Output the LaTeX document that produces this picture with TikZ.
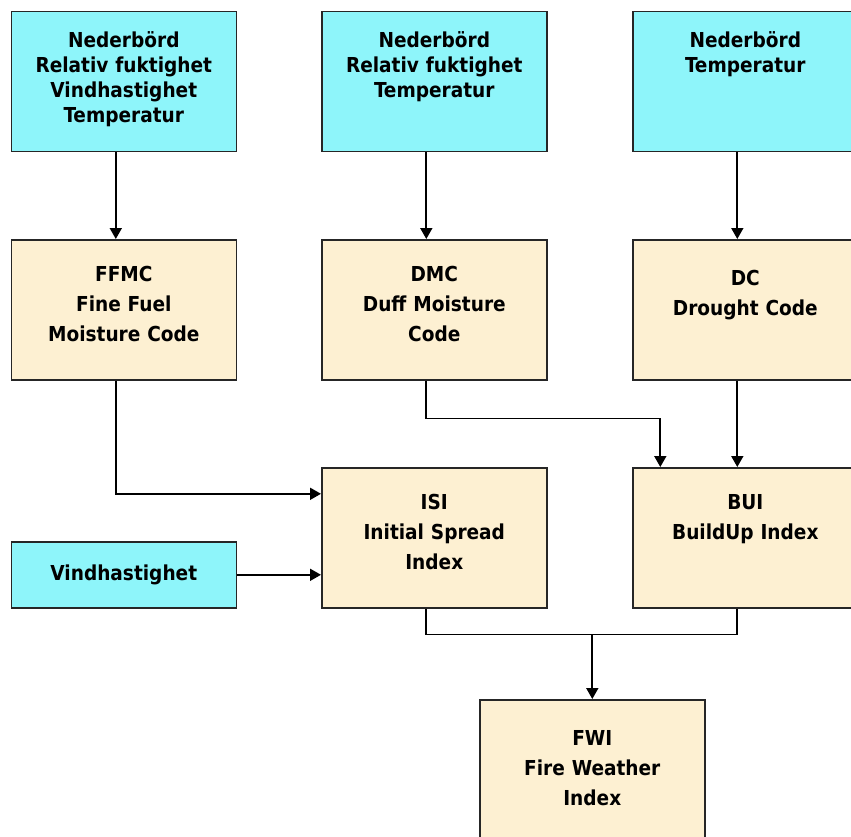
\documentclass[tikz,border=0pt]{standalone}
\usepackage{fontspec}
\setmainfont{DejaVu Sans Condensed}
\usetikzlibrary{arrows.meta}
\definecolor{skycyan}{RGB}{142,245,250}
\definecolor{wheat}{RGB}{253,240,210}

\begin{document}
\begin{tikzpicture}[x=1pt,y=-1pt]

\tikzstyle{inbox} = [rectangle, draw=black!85, line width=1.6pt, fill=skycyan, anchor=north west, minimum width=225pt, minimum height=140pt, inner sep=0pt, text width=225pt, align=center, text height=36pt, text depth=104pt, font=\bfseries\fontsize{20.6}{25}\selectfont]
\tikzstyle{codebox} = [inbox, fill=wheat, text height=42pt, text depth=98pt, font=\bfseries\fontsize{20.6}{30}\selectfont]
\tikzstyle{line} = [line width=1.7pt]
\tikzstyle{arrow} = [line, -{Triangle[length=11pt,width=12pt]}]

\useasboundingbox (0,0) rectangle (851,836);
\clip (0,0) rectangle (851,836);

\node (top1) [inbox] at (10.5,10.5) {Nederbörd\\Relativ fuktighet\\Vindhastighet\\Temperatur};
\node (top2) [inbox] at (321,10.5) {Nederbörd\\Relativ fuktighet\\Temperatur};
\node (top3) [inbox] at (632,10.5) {Nederbörd\\Temperatur};

\node (ffmc) [codebox] at (10.5,239) {FFMC\\Fine Fuel\\Moisture Code};
\node (dmc) [codebox] at (321,239) {DMC\\Duff Moisture\\Code};
\node (dc) [codebox, text height=46pt, text depth=94pt] at (632,239) {DC\\Drought Code};

\node (wind) [inbox, minimum height=66pt, text height=, text depth=] at (10.5,541) {Vindhastighet};
\node (isi) [codebox] at (321,467) {ISI\\Initial Spread\\Index};
\node (bui) [codebox] at (632,467) {BUI\\BuildUp Index};

\node (fwi) [codebox, text height=46pt, text depth=94pt] at (479,699) {FWI\\Fire Weather\\Index};

\draw [arrow] ([xshift=-8pt]top1.south) -- ([xshift=-8pt]ffmc.north);
\draw [arrow] ([xshift=-8pt]top2.south) -- ([xshift=-8pt]dmc.north);
\draw [arrow] ([xshift=-8pt]top3.south) -- ([xshift=-8pt]dc.north);

\draw [arrow] ([xshift=-8pt]ffmc.south) |- ([yshift=44pt]isi.west);
\draw [arrow] (wind.east) -- (wind.east -| isi.west);
\draw [arrow] ([xshift=-8pt]dmc.south) -- ++(0,38) -| ([xshift=-85pt]bui.north);
\draw [arrow] ([xshift=-8pt]dc.south) -- ([xshift=-8pt]bui.north);

\draw [line] ([xshift=-8pt]isi.south) -- ++(0,26) coordinate (join) -| ([xshift=-8pt]bui.south);
\draw [arrow] (join -| fwi.north) -- (fwi.north);

\end{tikzpicture}
\end{document}
